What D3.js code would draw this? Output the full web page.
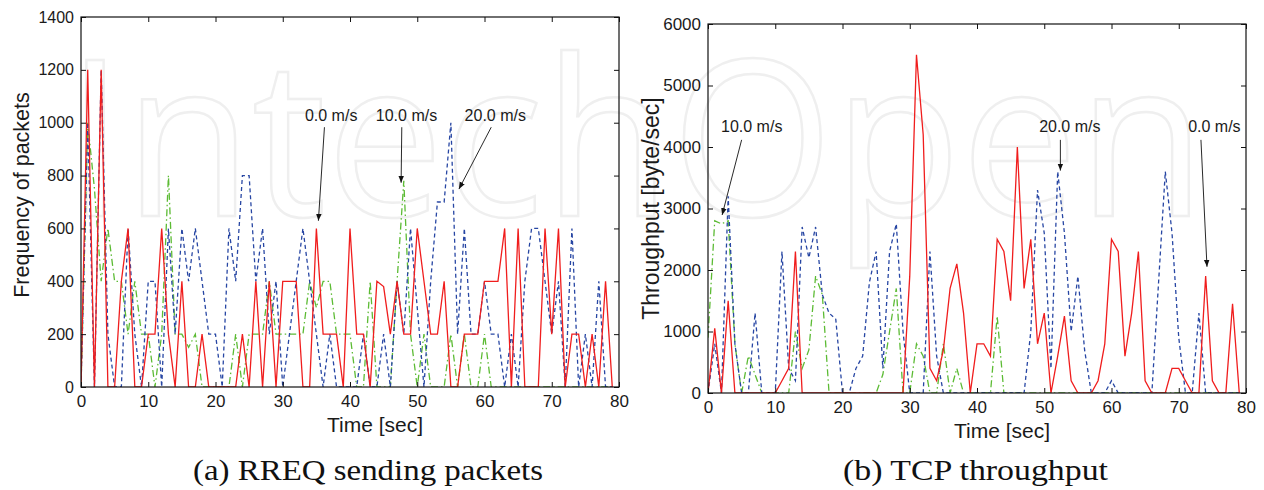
<!DOCTYPE html>
<html>
<head>
<meta charset="utf-8">
<script src="https://cdn.jsdelivr.net/npm/d3@7"></script>
<style>
  body { margin: 0; background: #fff; }
  svg text { font-family: "Liberation Sans", Arial, sans-serif; fill: #1a1a1a; }
</style>
</head>
<body>
<svg id="fig" width="1264" height="490"></svg>
<script>
// time axis, one sample per second
const seconds = d3.range(0, 80);

// (a) RREQ sending packets
const rreq0 = [0,1200,0,1200,0,0,400,600,0,0, 200,200,600,200,0,400,0,0,200,0,
  0,0,0,0,200,0,400,0,400,0, 400,400,400,0,0,600,200,200,200,0,
  600,200,200,0,400,380,200,400,200,200, 600,400,200,200,400,0,0,200,200,200,
  400,400,400,600,0,600,0,0,0,600, 200,600,0,200,200,0,200,0,400,0];
const rreq10 = [0,1000,750,400,600,400,400,200,400,200, 200,0,200,800,200,200,150,200,0,0,
  0,0,0,200,0,200,200,200,400,200, 200,200,200,200,400,300,400,400,200,200,
  200,0,0,400,0,0,0,400,780,200, 0,200,0,0,0,200,0,200,0,0,
  200,0,0,0,0,0,0,0,0,0, 0,0,0,0,0,0,0,0,0,0];
const rreq20 = [0,1000,0,1200,200,0,0,600,200,0, 400,400,0,600,200,600,400,600,400,200,
  200,0,600,400,800,800,400,600,200,400, 0,200,400,600,400,200,0,200,0,0,
  0,0,200,0,0,200,0,400,200,600, 300,0,400,700,700,1000,200,600,200,200,
  400,200,200,0,200,0,400,600,600,400, 200,400,0,600,0,200,0,400,0,0];

// (b) TCP throughput
const tcp0 = [0,1050,0,1500,0,0,0,0,0,0, 0,200,400,2300,0,0,0,0,0,0,
  0,0,0,0,0,0,0,0,0,0, 1900,5500,4200,400,200,700,1700,2100,1300,0,
  800,800,600,2500,2300,1500,4000,1700,2500,800, 1300,0,600,1250,200,0,0,0,200,800,
  2500,2300,600,1300,2300,200,0,0,0,400, 400,200,0,0,1900,200,0,0,1450,0];
const tcp10 = [900,2800,2750,2800,800,0,600,300,0,0, 0,0,0,1000,400,700,1900,1600,0,0,
  0,0,0,0,0,0,300,1000,1700,0, 0,800,600,0,0,800,0,400,0,0,
  0,0,0,1250,0,0,0,0,0,0, 0,0,0,0,0,0,0,0,0,0,
  0,0,0,0,0,0,0,0,0,0, 0,0,0,0,0,0,0,0,0,0];
const tcp20 = [0,800,0,3200,800,0,0,1300,0,0, 0,2300,400,200,2700,2200,2700,1600,1300,1200,
  0,0,400,600,1800,2300,400,2300,2750,1000, 0,0,0,2300,600,0,0,0,0,0,
  0,0,0,0,0,0,0,0,1000,3300, 2600,400,3600,2600,1000,1900,700,0,0,0,
  200,0,0,0,0,0,0,1800,3600,2600, 900,0,0,1300,0,0,0,0,0,0];

const timeTicks = d3.range(0, 81, 10);
const rreqTicks = d3.range(0, 1401, 200);
const tcpTicks = d3.range(0, 6001, 1000);

// annotations: label anchor and arrow in data units
const rreqNotes = [
  { text: "0.0 m/s",  tx: 37.2, ty: 1008, x1: 36.2, y1: 983, x2: 35.3, y2: 629 },
  { text: "10.0 m/s", tx: 48.4, ty: 1008, x1: 47.7, y1: 983, x2: 47.6, y2: 773 },
  { text: "20.0 m/s", tx: 61.6, ty: 1008, x1: 61.0, y1: 983, x2: 56.2, y2: 749 }
];
const tcpNotes = [
  { text: "10.0 m/s", tx: 6.5,  ty: 4246, x1: 5.0,  y1: 4116, x2: 2.1,  y2: 2894 },
  { text: "20.0 m/s", tx: 53.8, ty: 4246, x1: 52.4, y1: 4116, x2: 52.4, y2: 3616 },
  { text: "0.0 m/s",  tx: 75.3, ty: 4246, x1: 73.3, y1: 4116, x2: 74.2, y2: 2052 }
];

const svg = d3.select("#fig");

svg.append("defs").append("marker")
    .attr("id", "tip")
    .attr("viewBox", "0 0 10 10")
    .attr("refX", 10).attr("refY", 5)
    .attr("markerWidth", 7).attr("markerHeight", 7)
    .attr("markerUnits", "userSpaceOnUse")
    .attr("orient", "auto")
  .append("path")
    .attr("d", "M0,1 L10,5 L0,9 Z")
    .attr("fill", "#111");

// faint watermark behind everything
svg.append("text")
    .attr("x", 66).attr("y", 216)
    .attr("textLength", 1140)
    .attr("lengthAdjust", "spacingAndGlyphs")
    .style("font-family", "'Open Sans', sans-serif")
    .style("font-size", "218px")
    .style("fill", "none")
    .style("stroke", "#efefef")
    .style("stroke-width", 2.5)
    .text("IntechOpen");

const styles = {
  red:   { color: "#f01d1d", dash: null },
  green: { color: "#5cbb34", dash: "7,3,1.5,3" },
  blue:  { color: "#2746a3", dash: "4,3" }
};

function drawPanel(p) {
  const x = d3.scaleLinear().domain([0, 80]).range([p.left, p.right]);
  const y = d3.scaleLinear().domain([0, p.ymax]).range([p.bottom, p.top]);
  const g = svg.append("g");

  const clipId = "clip" + p.id;
  g.append("clipPath").attr("id", clipId)
    .append("rect")
    .attr("x", p.left).attr("y", p.top)
    .attr("width", p.right - p.left).attr("height", p.bottom - p.top);

  const line = d3.line()
      .x((d, i) => x(seconds[i]))
      .y(d => y(d));

  // draw green first, then blue, red on top
  p.series.forEach(s => {
    g.append("path")
      .datum(s.values)
      .attr("clip-path", "url(#" + clipId + ")")
      .attr("fill", "none")
      .attr("stroke", styles[s.style].color)
      .attr("stroke-width", 1.3)
      .attr("stroke-dasharray", styles[s.style].dash)
      .attr("d", line);
  });

  // axes with inward ticks on four sides
  const fmt = d3.format("d");
  const bottomAxis = d3.axisBottom(x).tickValues(timeTicks).tickFormat(fmt).tickSizeInner(-5).tickSizeOuter(0).tickPadding(8);
  const leftAxis = d3.axisLeft(y).tickValues(p.yticks).tickFormat(fmt).tickSizeInner(-5).tickSizeOuter(0).tickPadding(7);
  const topAxis = d3.axisTop(x).tickValues(timeTicks).tickSizeInner(-5).tickSizeOuter(0).tickFormat("");
  const rightAxis = d3.axisRight(y).tickValues(p.yticks).tickSizeInner(-5).tickSizeOuter(0).tickFormat("");

  const gb = g.append("g").attr("transform", "translate(0," + p.bottom + ")").call(bottomAxis);
  const gl = g.append("g").attr("transform", "translate(" + p.left + ",0)").call(leftAxis);
  g.append("g").attr("transform", "translate(0," + p.top + ")").call(topAxis);
  g.append("g").attr("transform", "translate(" + p.right + ",0)").call(rightAxis);

  g.selectAll(".domain").remove();
  g.selectAll(".tick line").attr("stroke", "#111");
  gb.selectAll("text").style("font-size", p.xtickSize + "px").attr("fill", "#1a1a1a");
  gl.selectAll("text").style("font-size", p.ytickSize + "px").attr("fill", "#1a1a1a");

  g.append("rect")
    .attr("x", p.left).attr("y", p.top)
    .attr("width", p.right - p.left).attr("height", p.bottom - p.top)
    .attr("fill", "none").attr("stroke", "#111").attr("stroke-width", 1.2);

  // annotations
  p.notes.forEach(n => {
    g.append("text")
      .attr("x", x(n.tx)).attr("y", y(n.ty))
      .attr("text-anchor", "middle")
      .style("font-size", p.noteSize + "px")
      .text(n.text);
    g.append("line")
      .attr("x1", x(n.x1)).attr("y1", y(n.y1))
      .attr("x2", x(n.x2)).attr("y2", y(n.y2))
      .attr("stroke", "#111").attr("stroke-width", 0.9)
      .attr("marker-end", "url(#tip)");
  });

  // axis titles
  g.append("text")
    .attr("x", (p.left + p.right) / 2 + 25).attr("y", p.bottom + 45)
    .attr("text-anchor", "middle")
    .style("font-size", "21px")
    .text("Time [sec]");
  g.append("text")
    .attr("transform", "translate(" + p.ylabelX + "," + ((p.top + p.bottom) / 2 + p.ylabelShift) + ") rotate(-90)")
    .attr("text-anchor", "middle")
    .style("font-size", p.ylabelSize + "px")
    .text(p.ylabel);

  // caption
  g.append("text")
    .attr("x", p.capX).attr("y", 480)
    .attr("textLength", p.capLen)
    .attr("lengthAdjust", "spacingAndGlyphs")
    .style("font-family", "'Liberation Serif', 'DejaVu Serif', serif")
    .style("font-size", "29px")
    .style("fill", "#111")
    .text(p.caption);
}

drawPanel({
  id: "a", left: 81, right: 619, top: 17, bottom: 387, ymax: 1400,
  yticks: rreqTicks, xtickSize: 17, ytickSize: 16, noteSize: 16,
  series: [
    { values: rreq10, style: "green" },
    { values: rreq20, style: "blue" },
    { values: rreq0, style: "red" }
  ],
  notes: rreqNotes,
  ylabel: "Frequency of packets", ylabelX: 29, ylabelShift: -7, ylabelSize: 21.5,
  caption: "(a) RREQ sending packets", capX: 193, capLen: 350
});

drawPanel({
  id: "b", left: 708, right: 1246, top: 24, bottom: 393, ymax: 6000,
  yticks: tcpTicks, xtickSize: 17, ytickSize: 17, noteSize: 16,
  series: [
    { values: tcp10, style: "green" },
    { values: tcp20, style: "blue" },
    { values: tcp0, style: "red" }
  ],
  notes: tcpNotes,
  ylabel: "Throughput [byte/sec]", ylabelX: 659, ylabelShift: 0, ylabelSize: 23,
  caption: "(b) TCP throughput", capX: 843, capLen: 265
});
</script>
</body>
</html>
